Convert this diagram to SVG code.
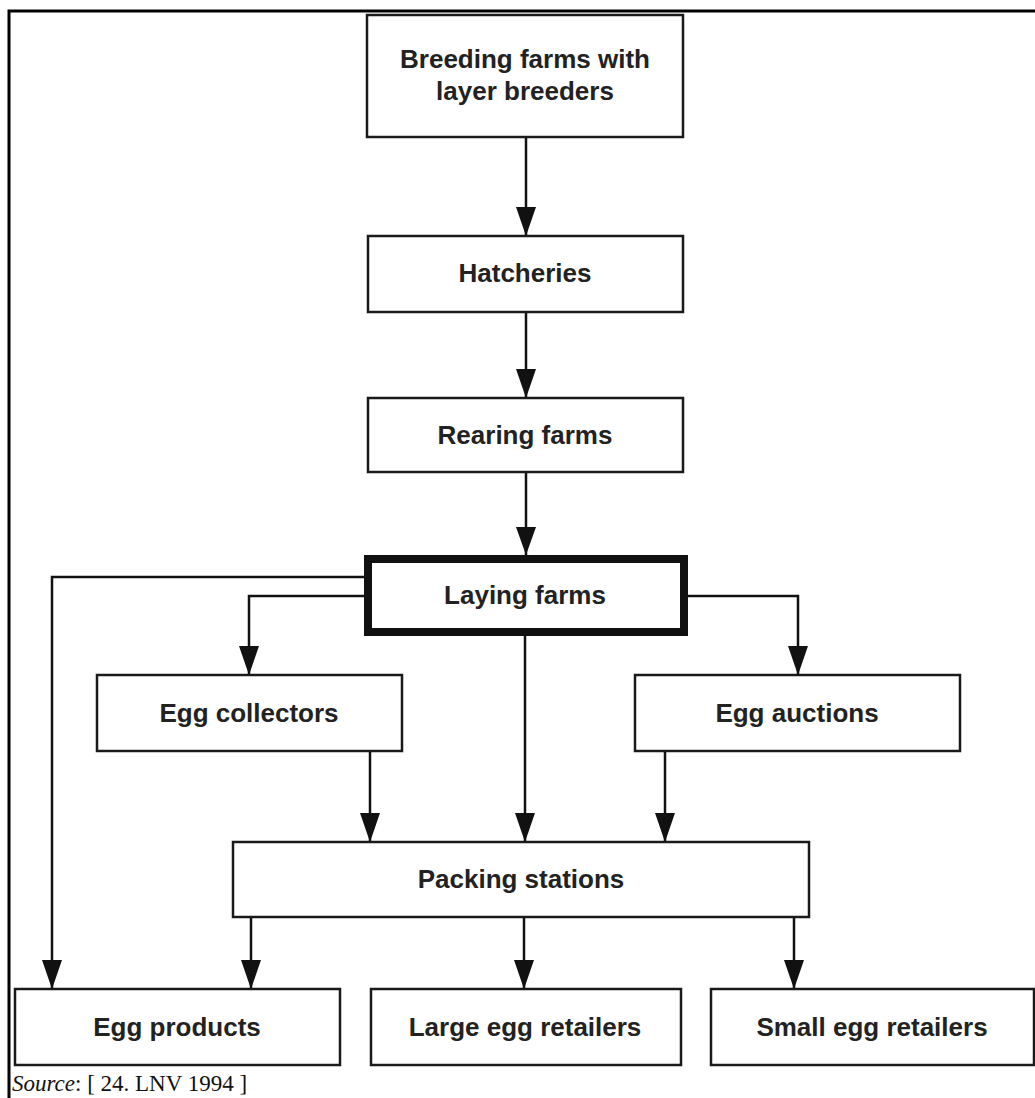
<svg xmlns="http://www.w3.org/2000/svg" width="1035" height="1098" viewBox="0 0 1035 1098">
<style>
.box{fill:#fff;stroke:#1a1a1a;stroke-width:2.5}
.thick{fill:#fff;stroke:#111;stroke-width:8}
.lbl{font-family:"Liberation Sans",Arial,sans-serif;font-weight:bold;font-size:26px;fill:#222;text-anchor:middle}
.con{fill:none;stroke:#111;stroke-width:2.5}
.src{font-family:"Liberation Serif","Times New Roman",serif;font-size:23px;fill:#111}
</style>
<rect width="1035" height="1098" fill="#fff"/>
<path d="M9,1098 L9,11 L1035,11" fill="none" stroke="#000" stroke-width="3"/>
<g id="connectors">
<path class="con" d="M526,137 V236"/>
<path class="con" d="M526,312 V398"/>
<path class="con" d="M526,472 V555"/>
<path class="con" d="M364,577 H52 V989"/>
<path class="con" d="M364,596 H249 V675"/>
<path class="con" d="M688,596 H798 V675"/>
<path class="con" d="M525,636 V842"/>
<path class="con" d="M370,751 V842"/>
<path class="con" d="M665,751 V842"/>
<path class="con" d="M251,917 V989"/>
<path class="con" d="M524,917 V989"/>
<path class="con" d="M794,917 V989"/>
<g fill="#111">
<path d="M516,207 L536,207 L526,236 Z"/>
<path d="M516,369 L536,369 L526,398 Z"/>
<path d="M516,527 L536,527 L526,555 Z"/>
<path d="M42,960 L62,960 L52,989 Z"/>
<path d="M239,646 L259,646 L249,675 Z"/>
<path d="M788,646 L808,646 L798,675 Z"/>
<path d="M515,813 L535,813 L525,842 Z"/>
<path d="M360,813 L380,813 L370,842 Z"/>
<path d="M655,813 L675,813 L665,842 Z"/>
<path d="M241,960 L261,960 L251,989 Z"/>
<path d="M514,960 L534,960 L524,989 Z"/>
<path d="M784,960 L804,960 L794,989 Z"/>
</g>
</g>
<g id="breeding"><rect class="box" x="367" y="15" width="316" height="122"/><text class="lbl" x="525" y="68">Breeding farms with</text><text class="lbl" x="525" y="100">layer breeders</text></g>
<g id="hatcheries"><rect class="box" x="368" y="236" width="315" height="76"/><text class="lbl" x="525" y="282">Hatcheries</text></g>
<g id="rearing"><rect class="box" x="368" y="398" width="315" height="74"/><text class="lbl" x="525" y="444">Rearing farms</text></g>
<g id="laying"><rect class="thick" x="368" y="559" width="316" height="73"/><text class="lbl" x="525" y="604">Laying farms</text></g>
<g id="collectors"><rect class="box" x="97" y="675" width="305" height="76"/><text class="lbl" x="249" y="722">Egg collectors</text></g>
<g id="auctions"><rect class="box" x="635" y="675" width="325" height="76"/><text class="lbl" x="797" y="722">Egg auctions</text></g>
<g id="packing"><rect class="box" x="233" y="842" width="576" height="75"/><text class="lbl" x="521" y="888">Packing stations</text></g>
<g id="products"><rect class="box" x="15" y="989" width="325" height="76"/><text class="lbl" x="177" y="1036">Egg products</text></g>
<g id="large"><rect class="box" x="371" y="989" width="310" height="76"/><text class="lbl" x="525" y="1036">Large egg retailers</text></g>
<g id="small"><rect class="box" x="711" y="989" width="323" height="76"/><text class="lbl" x="872" y="1036">Small egg retailers</text></g>
<text class="src" x="12" y="1091"><tspan font-style="italic">Source</tspan>: [ 24. LNV 1994 ]</text>
</svg>
